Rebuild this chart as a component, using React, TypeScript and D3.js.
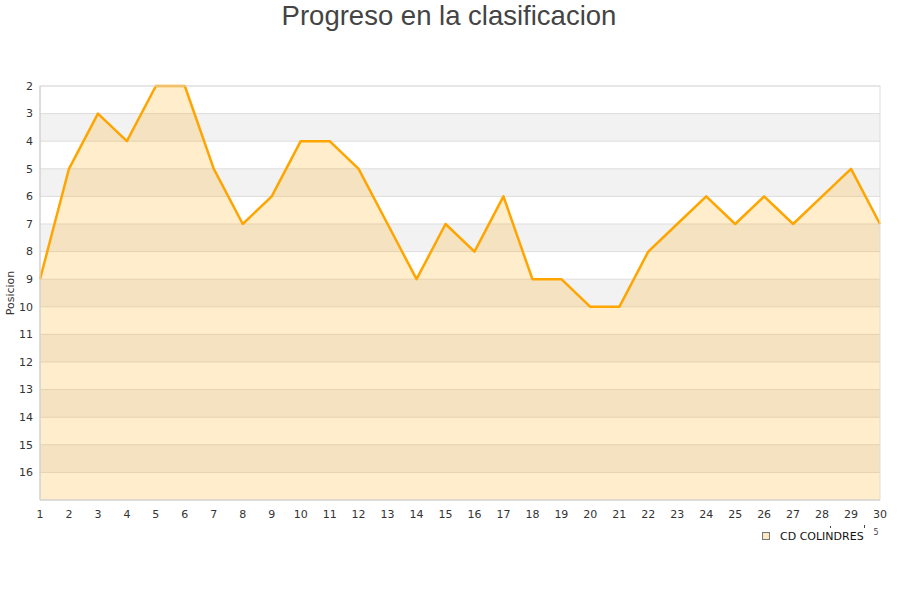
import * as d3 from "d3";

const jornadas = d3.range(1, 31);
const posiciones = [9, 5, 3, 4, 2, 2, 5, 7, 6, 4, 4, 5, 7, 9, 7, 8, 6, 9, 9, 10, 10, 8, 7, 6, 7, 6, 7, 6, 5, 7];
const yTicks = d3.range(2, 17);
const bandStarts = d3.range(2, 17);

const W = 900;
const H = 600;
const M = { top: 86, right: 20, bottom: 100, left: 40 };
const FONT = "DejaVu Sans, sans-serif";

const App = () => {
  const x = d3.scaleLinear().domain([1, 30]).range([M.left, W - M.right]);
  const y = d3.scaleLinear().domain([2, 17]).range([M.top, H - M.bottom]);

  const pts = jornadas.map((j, i) => [j, posiciones[i]] as [number, number]);
  const line = d3.line<[number, number]>().x((d) => x(d[0])).y((d) => y(d[1]));
  const area = d3
    .area<[number, number]>()
    .x((d) => x(d[0]))
    .y0(y(17))
    .y1((d) => y(d[1]));

  return (
    <svg
      width={W}
      height={H}
      style={{ position: "absolute", left: 0, top: 0, background: "#fff" }}
    >
      <text
        x={449}
        y={25}
        textAnchor="middle"
        fontFamily="Liberation Sans, Arial, sans-serif"
        fontSize={27.5}
        fill="#444"
      >
        Progreso en la clasificacion
      </text>

      {/* alternating bands */}
      {bandStarts.map((b) => (
        <rect
          key={b}
          x={x(1)}
          y={y(b)}
          width={x(30) - x(1)}
          height={y(b + 1) - y(b)}
          fill={b % 2 === 1 ? "#f2f2f2" : "#ffffff"}
        />
      ))}

      {/* grid lines */}
      {yTicks.map((t) => (
        <line
          key={t}
          x1={x(1)}
          x2={x(30)}
          y1={y(t)}
          y2={y(t)}
          stroke="#dddddd"
          strokeWidth={1}
        />
      ))}

      <path d={area(pts) ?? ""} fill="#ffa500" fillOpacity={0.2} />
      <path
        d={line(pts) ?? ""}
        fill="none"
        stroke="#ffa500"
        strokeWidth={2.5}
        strokeLinejoin="round"
      />

      {/* frame */}
      <rect
        x={x(1)}
        y={y(2)}
        width={x(30) - x(1)}
        height={y(17) - y(2)}
        fill="none"
        stroke="#dddddd"
        strokeWidth={1}
      />
      <line x1={x(1)} x2={x(1)} y1={y(2)} y2={y(17)} stroke="#cccccc" />
      <line x1={x(1)} x2={x(30)} y1={y(17)} y2={y(17)} stroke="#cccccc" />

      {/* y tick labels */}
      {yTicks.map((t) => (
        <text
          key={t}
          x={33}
          y={y(t)}
          dy="0.35em"
          textAnchor="end"
          fontFamily={FONT}
          fontSize={11}
          fill="#333"
        >
          {t}
        </text>
      ))}

      {/* x tick labels */}
      {jornadas.map((j) => (
        <text
          key={j}
          x={x(j)}
          y={518}
          textAnchor="middle"
          fontFamily={FONT}
          fontSize={11}
          fill="#333"
        >
          {j}
        </text>
      ))}

      <text
        transform={`translate(14, ${(y(2) + y(17)) / 2}) rotate(-90)`}
        textAnchor="middle"
        fontFamily={FONT}
        fontSize={11}
        fill="#333"
      >
        Posicion
      </text>

      {/* legend */}
      <rect
        x={762.5}
        y={532.5}
        width={7}
        height={7}
        fill="#fde9c4"
        stroke="#777"
        strokeWidth={1}
      />
      <text x={780} y={540} fontFamily={FONT} fontSize={11} fill="#111">
        CD COLINDRES
      </text>
      <text x={873.5} y={535} fontFamily={FONT} fontSize={8} fill="#444">
        5
      </text>
      <rect x={830} y={526} width={1} height={2} fill="#444" />
      <rect x={864} y={525} width={1} height={3} fill="#444" />
    </svg>
  );
};

export default App;
